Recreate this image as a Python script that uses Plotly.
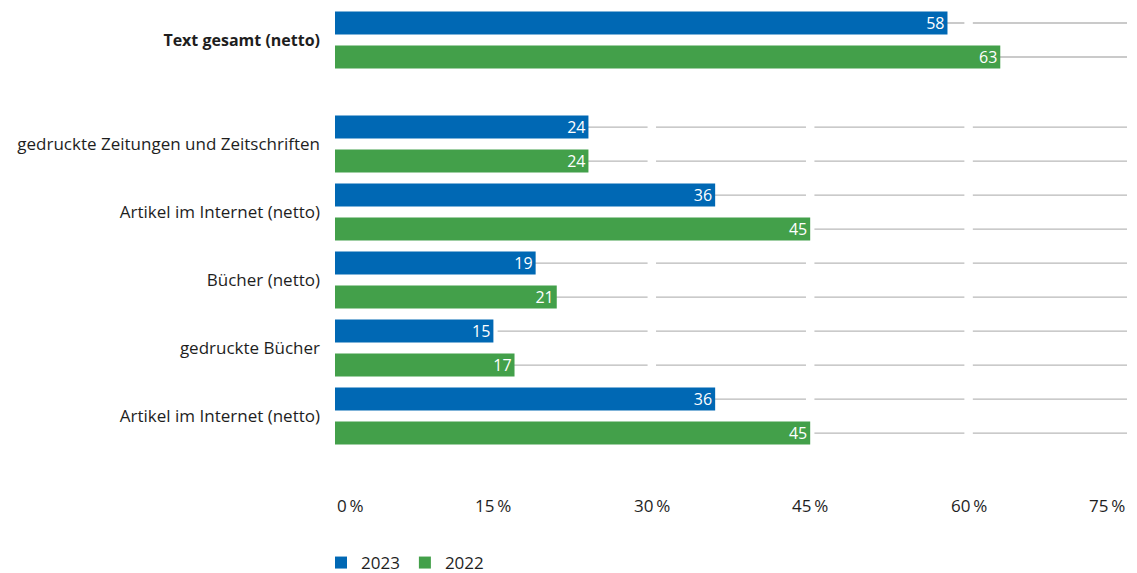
import plotly.graph_objects as go

# Categories (top to bottom) and their vertical positions (extra gap after the net total row)
categories = [
    "<span style=\"font-size:16px\"><b>Text gesamt (netto)</b></span>",
    "gedruckte Zeitungen und Zeitschriften",
    "Artikel im Internet (netto)",
    "Bücher (netto)",
    "gedruckte Bücher",
    "Artikel im Internet (netto)",
]
row_pos = [0, 1.53, 2.53, 3.53, 4.53, 5.53]

values_2023 = [58, 24, 36, 19, 15, 36]
values_2022 = [63, 24, 45, 21, 17, 45]

tick_values = [0, 15, 30, 45, 60, 75]
tick_labels = ["0\u2009%", "15\u2009%", "30\u2009%", "45\u2009%", "60\u2009%", "75\u2009%"]

BLUE = "#0068b4"
GREEN = "#43a04a"
GRID = "#b9b9b9"
TEXT = "#1e1e1e"
FONT = "Open Sans"

offset = 0.25
bar_w = 0.34
y_2023 = [p - offset for p in row_pos]
y_2022 = [p + offset for p in row_pos]

fig = go.Figure()
for name, vals, ys, col in [("2023", values_2023, y_2023, BLUE),
                            ("2022", values_2022, y_2022, GREEN)]:
    fig.add_trace(go.Bar(
        name=name, x=vals, y=ys, orientation="h", width=bar_w,
        marker=dict(color=col, line=dict(width=0)),
        text=[str(v) for v in vals], textposition="inside",
        insidetextanchor="end", textangle=0, constraintext="none",
        textfont=dict(color="white", size=16, family=FONT),
        hoverinfo="skip",
    ))

# Segmented row guide lines, broken at each tick position
gap = 0.4
shapes = []
bounds = [(tick_values[i] + (gap if i > 0 else 0),
           tick_values[i + 1] - (gap if i + 1 < len(tick_values) - 1 else 0))
          for i in range(len(tick_values) - 1)]
for ys in (y_2023, y_2022):
    for yv in ys:
        for x0, x1 in bounds:
            shapes.append(dict(type="line", xref="x", yref="y", x0=x0, x1=x1,
                               y0=yv, y1=yv, layer="below",
                               line=dict(color=GRID, width=1.3)))

plot_top, plot_bottom = 5, 475
label_row = 505
annotations = []
for i, (tv, tl) in enumerate(zip(tick_values, tick_labels)):
    anchor = "left" if i == 0 else ("right" if i == len(tick_values) - 1 else "center")
    annotations.append(dict(x=tv, xref="x", yref="paper",
                            y=(plot_bottom - label_row) / (plot_bottom - plot_top),
                            text=tl, showarrow=False, xanchor=anchor, yanchor="middle",
                            font=dict(size=17, color=TEXT, family=FONT)))

fig.update_layout(
    width=1137, height=573,
    margin=dict(l=335, r=10, t=plot_top, b=573 - plot_bottom, autoexpand=False),
    plot_bgcolor="white", paper_bgcolor="white",
    barmode="overlay",
    font=dict(family=FONT, size=17, color=TEXT),
    xaxis=dict(range=[0, 75], showgrid=False, zeroline=False,
               showticklabels=False, ticks="", fixedrange=True),
    yaxis=dict(range=[6.397, -0.515], tickvals=row_pos, ticktext=categories,
               showgrid=False, zeroline=False, ticks="", ticklabelstandoff=14,
               tickfont=dict(size=17, color=TEXT, family=FONT)),
    shapes=shapes,
    annotations=annotations,
    showlegend=True,
    legend=dict(orientation="h", x=-14 / 792, xref="paper", y=1 - 563 / 573,
                yref="container", yanchor="middle", xanchor="left",
                font=dict(size=17, color=TEXT, family=FONT),
                itemwidth=30, traceorder="normal"),
)

fig.write_html("out.html")
